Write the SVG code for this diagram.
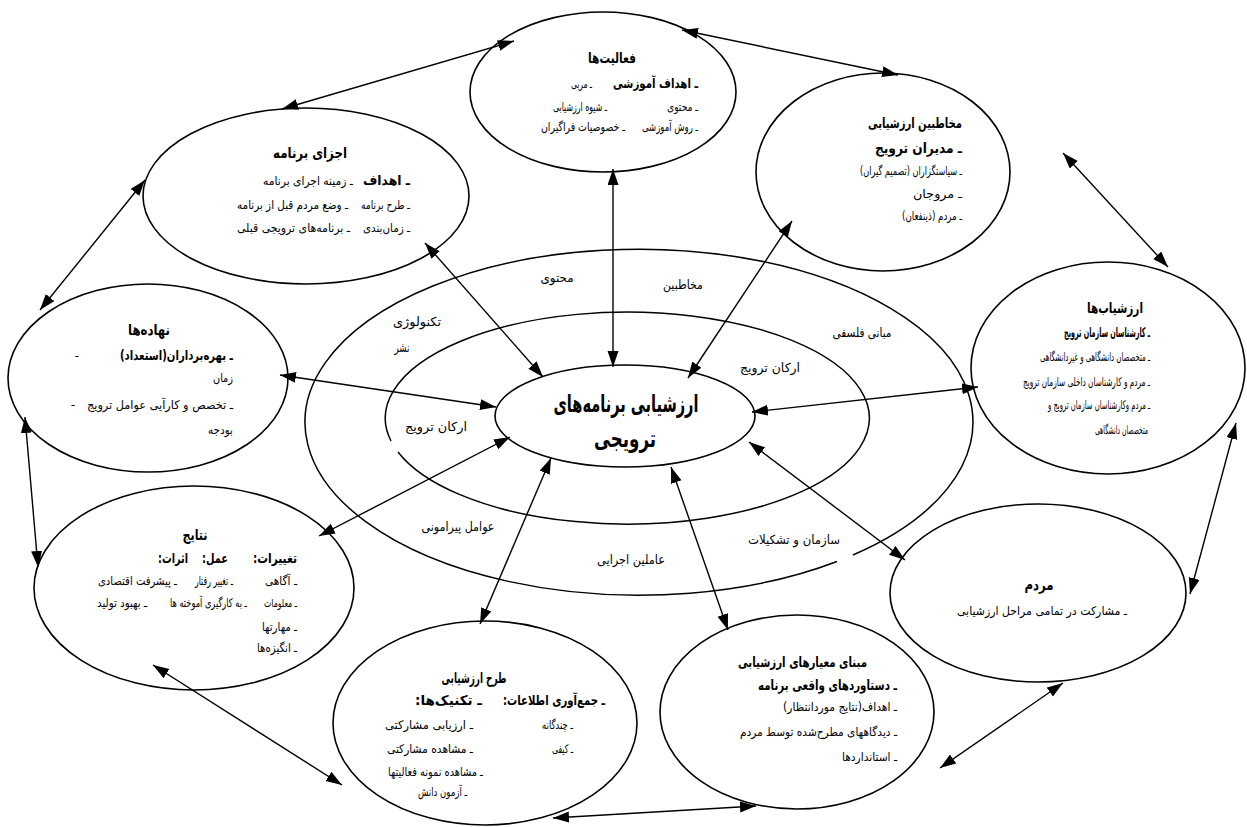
<svg xmlns="http://www.w3.org/2000/svg" width="1247" height="827" viewBox="0 0 1247 827">
<style>
text{font-family:"DejaVu Sans",sans-serif;fill:#000;direction:rtl;text-anchor:start}
.n ellipse{fill:#fff;stroke:#000;stroke-width:1.6}
.ring{fill:none;stroke:#000;stroke-width:1.5}
.c line{stroke:#000;stroke-width:1.4;marker-start:url(#ah);marker-end:url(#ah)}
.t{font-size:15px;font-weight:bold;text-anchor:middle}
.tb{font-size:14px;font-weight:bold}
.b{font-size:13.5px;font-weight:bold}
.i{font-size:12px}
.m{text-anchor:middle}
.rl{font-size:12.5px;text-anchor:middle}
.ct{font-size:24px;font-weight:bold;text-anchor:middle}
</style>
<defs>
<marker id="ah" markerUnits="userSpaceOnUse" markerWidth="17" markerHeight="12" refX="16" refY="5.5" orient="auto-start-reverse" viewBox="0 0 17 12">
<path d="M0,0 L16,5.5 L0,11 z" fill="#000"/>
</marker>
</defs>
<rect width="1247" height="827" fill="#fff"/>

<g id="rings">
<path class="ring" d="M853,555 A334,173 0 1 0 837,561.5"/>
<path class="ring" d="M398,452 A242,106 0 1 0 391,441"/>
<text class="rl" x="557" y="282" textLength="33" lengthAdjust="spacingAndGlyphs">محتوی</text>
<text class="rl" x="683" y="289" textLength="40" lengthAdjust="spacingAndGlyphs">مخاطبین</text>
<text class="rl" x="417" y="326" textLength="48" lengthAdjust="spacingAndGlyphs">تکنولوژی</text>
<text class="rl" x="402" y="352" textLength="15" lengthAdjust="spacingAndGlyphs">نشر</text>
<text class="rl" x="862" y="337" textLength="59" lengthAdjust="spacingAndGlyphs">مبانی فلسفی</text>
<text class="rl" x="770" y="372" textLength="60" lengthAdjust="spacingAndGlyphs">ارکان ترویج</text>
<text class="rl" x="436" y="431" textLength="62" lengthAdjust="spacingAndGlyphs">ارکان ترویج</text>
<text class="rl" x="458" y="531" textLength="73" lengthAdjust="spacingAndGlyphs">عوامل پیرامونی</text>
<text class="rl" x="631" y="564" textLength="68" lengthAdjust="spacingAndGlyphs">عاملین اجرایی</text>
<text class="rl" x="794" y="544" textLength="92" lengthAdjust="spacingAndGlyphs">سازمان و تشکیلات</text>
</g>

<g id="center" class="n">
<ellipse cx="625" cy="416" rx="130" ry="51"/>
<text class="ct" x="626" y="412" textLength="145" lengthAdjust="spacingAndGlyphs">ارزشیابی برنامه‌های</text>
<text class="ct" x="625" y="447" textLength="62" lengthAdjust="spacingAndGlyphs">ترویجی</text>
</g>

<g id="node-activities" class="n">
<ellipse cx="603" cy="92" rx="133" ry="80"/>
<text class="t" x="612" y="63" textLength="48" lengthAdjust="spacingAndGlyphs">فعالیت‌ها</text>
<text class="b" x="698" y="88" textLength="85" lengthAdjust="spacingAndGlyphs">ـ اهداف آموزشی</text>
<text class="i" x="592" y="88" textLength="21" lengthAdjust="spacingAndGlyphs">ـ مربی</text>
<text class="i" x="698" y="111" textLength="31" lengthAdjust="spacingAndGlyphs">ـ محتوی</text>
<text class="i" x="607" y="111" textLength="54" lengthAdjust="spacingAndGlyphs">ـ شیوه ارزشیابی</text>
<text class="i" x="698" y="131" textLength="56" lengthAdjust="spacingAndGlyphs">ـ روش آموزشی</text>
<text class="i" x="625" y="131" textLength="84" lengthAdjust="spacingAndGlyphs">ـ خصوصیات فراگیران</text>
</g>

<g id="node-program" class="n">
<ellipse cx="306" cy="196" rx="163" ry="88"/>
<text class="t" x="310" y="158" textLength="74" lengthAdjust="spacingAndGlyphs">اجزای برنامه</text>
<text class="b" x="410" y="185" textLength="47" lengthAdjust="spacingAndGlyphs">ـ اهداف</text>
<text class="i" x="353" y="185" textLength="90" lengthAdjust="spacingAndGlyphs">ـ زمینه اجرای برنامه</text>
<text class="i" x="410" y="209" textLength="49" lengthAdjust="spacingAndGlyphs">ـ طرح برنامه</text>
<text class="i" x="348" y="209" textLength="111" lengthAdjust="spacingAndGlyphs">ـ وضع مردم قبل از برنامه</text>
<text class="i" x="410" y="232" textLength="47" lengthAdjust="spacingAndGlyphs">ـ زمان‌بندی</text>
<text class="i" x="350" y="232" textLength="113" lengthAdjust="spacingAndGlyphs">ـ برنامه‌های ترویجی قبلی</text>
</g>

<g id="node-audience" class="n">
<ellipse cx="883" cy="172" rx="127" ry="99"/>
<text class="tb" x="962" y="128" textLength="94" lengthAdjust="spacingAndGlyphs">مخاطبین ارزشیابی</text>
<text class="tb" x="962" y="153" textLength="87" lengthAdjust="spacingAndGlyphs">ـ مدیران ترویج</text>
<text class="i" x="962" y="175" textLength="102" lengthAdjust="spacingAndGlyphs">ـ سیاستگزاران (تصمیم گیران)</text>
<text class="i" x="962" y="198" textLength="49" lengthAdjust="spacingAndGlyphs">ـ مروجان</text>
<text class="i" x="962" y="220" textLength="60" lengthAdjust="spacingAndGlyphs">ـ مردم (ذینفعان)</text>
</g>

<g id="node-evaluators" class="n">
<ellipse cx="1108" cy="368" rx="137" ry="106"/>
<text class="t" x="1115" y="313" textLength="56" lengthAdjust="spacingAndGlyphs">ارزشیاب‌ها</text>
<text class="b" x="1150" y="337" textLength="86" lengthAdjust="spacingAndGlyphs">ـ کارشناسان سازمان ترویج</text>
<text class="i" x="1150" y="361" textLength="110" lengthAdjust="spacingAndGlyphs">ـ متخصصان دانشگاهی و غیردانشگاهی</text>
<text class="i" x="1150" y="386" textLength="127" lengthAdjust="spacingAndGlyphs">ـ مردم و کارشناسان داخلی سازمان ترویج</text>
<text class="i" x="1150" y="409" textLength="102" lengthAdjust="spacingAndGlyphs">ـ مردم وکارشناسان سازمان ترویج و</text>
<text class="i" x="1148" y="434" textLength="53" lengthAdjust="spacingAndGlyphs">متخصصان دانشگاهی</text>
</g>

<g id="node-inputs" class="n">
<ellipse cx="148" cy="378" rx="140" ry="94"/>
<text class="t" x="149" y="335" textLength="42" lengthAdjust="spacingAndGlyphs">نهاده‌ها</text>
<text class="b" x="233" y="360" textLength="113" lengthAdjust="spacingAndGlyphs">ـ بهره‌برداران(استعداد)</text>
<text class="i m" x="77" y="360">-</text>
<text class="i" x="233" y="382" textLength="20" lengthAdjust="spacingAndGlyphs">زمان</text>
<text class="i" x="233" y="409" textLength="146" lengthAdjust="spacingAndGlyphs">ـ تخصص و کارآیی عوامل ترویج</text>
<text class="i m" x="73" y="409">-</text>
<text class="i" x="233" y="434" textLength="25" lengthAdjust="spacingAndGlyphs">بودجه</text>
</g>

<g id="node-results" class="n">
<ellipse cx="194" cy="588" rx="160" ry="102"/>
<text class="t" x="195" y="540" textLength="25" lengthAdjust="spacingAndGlyphs">نتایج</text>
<text class="b" x="297" y="563" textLength="44" lengthAdjust="spacingAndGlyphs">تغییرات:</text>
<text class="b" x="228" y="563" textLength="26" lengthAdjust="spacingAndGlyphs">عمل:</text>
<text class="b" x="188" y="563" textLength="30" lengthAdjust="spacingAndGlyphs">اثرات:</text>
<text class="i" x="297" y="585" textLength="32" lengthAdjust="spacingAndGlyphs">ـ آگاهی</text>
<text class="i" x="233" y="585" textLength="38" lengthAdjust="spacingAndGlyphs">ـ تغییر رفتار</text>
<text class="i" x="177" y="585" textLength="79" lengthAdjust="spacingAndGlyphs">ـ پیشرفت اقتصادی</text>
<text class="i" x="297" y="607" textLength="33" lengthAdjust="spacingAndGlyphs" style="font-size:11px">ـ معلومات</text>
<text class="i" x="247" y="607" textLength="77" lengthAdjust="spacingAndGlyphs">ـ به کارگیری آموخته ها</text>
<text class="i" x="147" y="607" textLength="50" lengthAdjust="spacingAndGlyphs">ـ بهبود تولید</text>
<text class="i" x="297" y="631" textLength="35" lengthAdjust="spacingAndGlyphs">ـ مهارتها</text>
<text class="i" x="297" y="652" textLength="40" lengthAdjust="spacingAndGlyphs">ـ انگیزه‌ها</text>
</g>

<g id="node-design" class="n">
<ellipse cx="485" cy="723" rx="152" ry="102"/>
<text class="t" x="474" y="683" textLength="65" lengthAdjust="spacingAndGlyphs">طرح ارزشیابی</text>
<text class="b" x="605" y="705" textLength="102" lengthAdjust="spacingAndGlyphs">ـ جمع‌آوری اطلاعات:</text>
<text class="b" x="482" y="705" textLength="67" lengthAdjust="spacingAndGlyphs">ـ تکنیک‌ها:</text>
<text class="i" x="573" y="729" textLength="31" lengthAdjust="spacingAndGlyphs">ـ چندگانه</text>
<text class="i" x="473" y="729" textLength="88" lengthAdjust="spacingAndGlyphs">ـ ارزیابی مشارکتی</text>
<text class="i" x="573" y="753" textLength="21" lengthAdjust="spacingAndGlyphs">ـ کیفی</text>
<text class="i" x="473" y="753" textLength="86" lengthAdjust="spacingAndGlyphs">ـ مشاهده مشارکتی</text>
<text class="i" x="483" y="776" textLength="95" lengthAdjust="spacingAndGlyphs">ـ مشاهده نمونه فعالیتها</text>
<text class="i" x="467" y="796" textLength="49" lengthAdjust="spacingAndGlyphs">ـ آزمون دانش</text>
</g>

<g id="node-criteria" class="n">
<ellipse cx="797" cy="712" rx="137" ry="97"/>
<text class="tb" x="867" y="667" textLength="129" lengthAdjust="spacingAndGlyphs">مبنای معیارهای ارزشیابی</text>
<text class="tb" x="897" y="690" textLength="139" lengthAdjust="spacingAndGlyphs">ـ دستاوردهای واقعی برنامه</text>
<text class="i" x="897" y="711" textLength="114" lengthAdjust="spacingAndGlyphs">ـ اهداف(نتایج موردانتظار)</text>
<text class="i" x="897" y="736" textLength="157" lengthAdjust="spacingAndGlyphs">ـ دیدگاههای مطرح‌شده توسط مردم</text>
<text class="i" x="897" y="761" textLength="55" lengthAdjust="spacingAndGlyphs">ـ استانداردها</text>
</g>

<g id="node-people" class="n">
<ellipse cx="1038" cy="593" rx="148" ry="89"/>
<text class="t" x="1039" y="590" textLength="29" lengthAdjust="spacingAndGlyphs">مردم</text>
<text class="i m" x="1042" y="615" textLength="170" lengthAdjust="spacingAndGlyphs">ـ مشارکت در تمامی مراحل ارزشیابی</text>
</g>

<g id="connectors" class="c">
<line x1="282" y1="109" x2="514" y2="41"/>
<line x1="682" y1="30" x2="898" y2="75"/>
<line x1="1063" y1="153" x2="1168" y2="267"/>
<line x1="1236" y1="423" x2="1190" y2="594"/>
<line x1="1063" y1="683" x2="940" y2="768"/>
<line x1="756" y1="806" x2="553" y2="818"/>
<line x1="342" y1="785" x2="153" y2="665"/>
<line x1="38" y1="567" x2="25" y2="417"/>
<line x1="40" y1="310" x2="145" y2="180"/>
<line x1="425" y1="243" x2="543" y2="377"/>
<line x1="613" y1="169" x2="613" y2="367"/>
<line x1="792" y1="221" x2="688" y2="378"/>
<line x1="978" y1="387" x2="752" y2="412"/>
<line x1="280" y1="375" x2="496" y2="407"/>
<line x1="319" y1="536" x2="510" y2="437"/>
<line x1="480" y1="624" x2="551" y2="458"/>
<line x1="728" y1="630" x2="671" y2="467"/>
<line x1="905" y1="560" x2="749" y2="442"/>
</g>
</svg>
